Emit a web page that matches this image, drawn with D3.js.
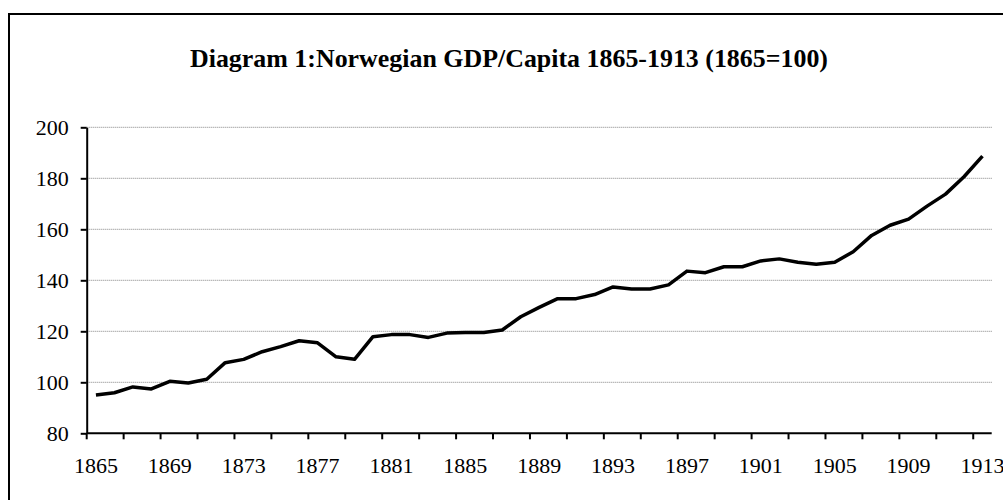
<!DOCTYPE html>
<html>
<head>
<meta charset="utf-8">
<script src="https://cdn.jsdelivr.net/npm/d3@7"></script>
<style>
  html, body { margin: 0; padding: 0; background: #fff; }
  svg { display: block; }
  text { font-family: "Liberation Serif", "Times New Roman", serif; }
</style>
</head>
<body>
<svg id="chart" width="1003" height="500"></svg>
<script>
const years = d3.range(1865, 1914).map(String);
const gdpIndex = [
  95.0, 95.9, 98.2, 97.4, 100.4, 99.7, 101.2, 107.7, 109.0, 112.0,
  114.0, 116.3, 115.5, 110.0, 109.0, 117.9, 118.7, 118.7, 117.6, 119.3,
  119.5, 119.5, 120.5, 125.7, 129.4, 132.8, 132.8, 134.4, 137.4, 136.6,
  136.6, 138.2, 143.6, 143.0, 145.3, 145.3, 147.6, 148.4, 147.1, 146.3,
  147.1, 151.2, 157.6, 161.6, 164.0, 169.1, 173.8, 180.6, 188.7
];
const yTicks = [80, 100, 120, 140, 160, 180, 200];
const xTickLabels = ["1865","1869","1873","1877","1881","1885","1889","1893","1897","1901","1905","1909","1913"];
const titleText = "Diagram 1:Norwegian GDP/Capita 1865-1913 (1865=100)";

const svg = d3.select("#chart");
const plotL = 86.7, plotR = 991.7, plotT = 127.3, plotB = 433.3;

// outer frame
svg.append("rect")
  .attr("x", 9).attr("y", 14).attr("width", 1020).attr("height", 520)
  .attr("fill", "none").attr("stroke", "#000").attr("stroke-width", 2);

svg.append("text")
  .attr("x", 509).attr("y", 67)
  .attr("text-anchor", "middle")
  .attr("font-weight", "bold")
  .attr("font-size", 25)
  .attr("textLength", 638)
  .attr("lengthAdjust", "spacingAndGlyphs")
  .text(titleText);

const x = d3.scaleBand().domain(years).range([plotL, plotR]).paddingInner(0).paddingOuter(0);
const y = d3.scaleLinear().domain([80, 200]).range([plotB, plotT]);

// gridlines
svg.append("g").selectAll("line").data(yTicks.filter(d => d > 80)).join("line")
  .attr("x1", plotL).attr("x2", plotR)
  .attr("y1", d => y(d)).attr("y2", d => y(d))
  .attr("stroke", "#808080").attr("stroke-width", 1).attr("stroke-dasharray", "1,1");

// y axis
const yAxis = d3.axisLeft(y).tickValues(yTicks).tickSize(6).tickPadding(12).tickSizeOuter(0);
const gy = svg.append("g").attr("transform", `translate(${plotL},0)`).call(yAxis);
gy.select(".domain").attr("stroke", "#000").attr("stroke-width", 2);
gy.selectAll(".tick line").attr("stroke", "#000").attr("stroke-width", 2);
gy.selectAll(".tick text").attr("font-size", 22).attr("fill", "#000")
  .attr("font-family", "Liberation Serif, serif");

// x axis: ticks at category boundaries every 2 categories
const boundaries = years.filter((d, i) => i % 2 === 0);
const gx = svg.append("g");
gx.append("line").attr("x1", plotL).attr("x2", plotR).attr("y1", plotB).attr("y2", plotB)
  .attr("stroke", "#000").attr("stroke-width", 2);
gx.selectAll("line.tick").data(boundaries).join("line").attr("class", "tick")
  .attr("x1", d => x(d)).attr("x2", d => x(d))
  .attr("y1", plotB).attr("y2", plotB + 6)
  .attr("stroke", "#000").attr("stroke-width", 2);
gx.selectAll("text").data(xTickLabels).join("text")
  .attr("x", d => x(d) + x.bandwidth() / 2)
  .attr("y", 473)
  .attr("text-anchor", "middle")
  .attr("font-size", 22)
  .text(d => d);

// line
const line = d3.line()
  .x((d, i) => x(years[i]) + x.bandwidth() / 2)
  .y(d => y(d));
svg.append("path").datum(gdpIndex)
  .attr("d", line)
  .attr("fill", "none").attr("stroke", "#000").attr("stroke-width", 3.5)
  .attr("stroke-linejoin", "round");
</script>
</body>
</html>
